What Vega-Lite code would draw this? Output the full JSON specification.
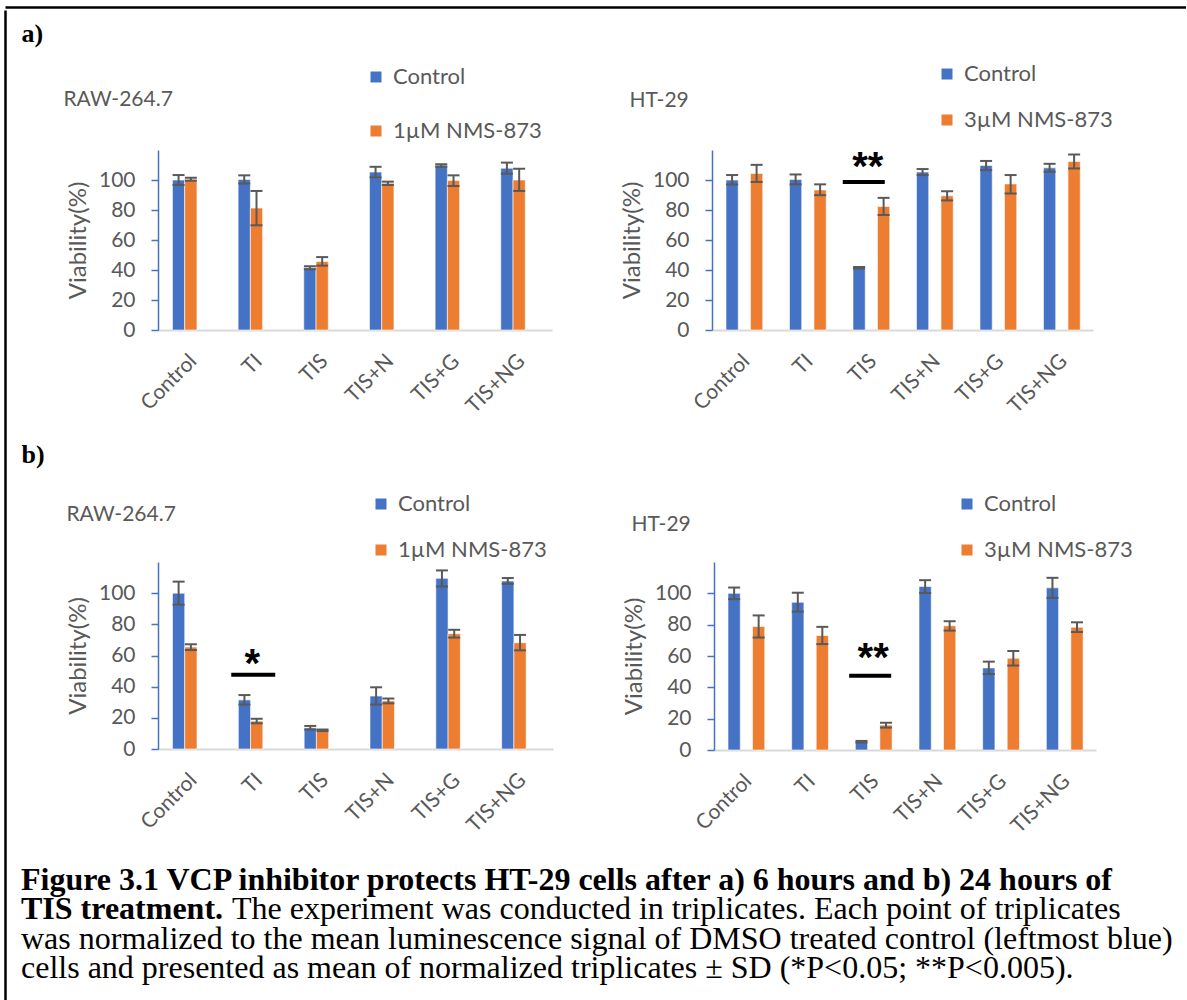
{
"$schema": "https://vega.github.io/schema/vega-lite/v6.json",
"padding": {"left": 5, "top": 7, "right": 0, "bottom": 0},
"background": "white",
"config": {
  "view": {"stroke": null},
  "font": "Lato",
  "axisX": {"domainColor": "#D9D9D9", "domainWidth": 2, "ticks": false, "tickSize": 0, "labelAngle": -45, "labelPadding": 20, "labelOffset": -5, "labelFontSize": 21, "labelColor": "#595959", "labelFont": "Lato", "grid": false},
  "axisY": {"domainColor": "#4472C4", "domainWidth": 1.5, "tickColor": "#4472C4", "tickWidth": 1.5, "tickSize": 7, "labelPadding": 16, "labelFontSize": 21, "labelColor": "#595959", "labelFont": "Lato", "titleFont": "Lato", "titleFontSize": 24, "titleFontWeight": "normal", "titleColor": "#595959", "titlePadding": 8, "grid": false},
  "legend": {"title": null, "labelFont": "Lato", "labelFontSize": 22, "labelColor": "#595959", "symbolType": "square", "symbolSize": 121, "symbolStrokeWidth": 0, "labelOffset": 6, "direction": "vertical", "padding": 0}
},
"datasets": {
  "aL": [
    {"cat": "Control", "series": "Control", "value": 100, "lo": 96.7, "hi": 103.3},
    {"cat": "Control", "series": "1µM NMS-873", "value": 100.5, "lo": 99.5, "hi": 101.5},
    {"cat": "TI", "series": "Control", "value": 100.4, "lo": 97.7, "hi": 103.1},
    {"cat": "TI", "series": "1µM NMS-873", "value": 81.3, "lo": 69.8, "hi": 92.7},
    {"cat": "TIS", "series": "Control", "value": 41.5, "lo": 40.5, "hi": 42.5},
    {"cat": "TIS", "series": "1µM NMS-873", "value": 45.7, "lo": 42.9, "hi": 48.6},
    {"cat": "TIS+N", "series": "Control", "value": 105.3, "lo": 101.8, "hi": 108.8},
    {"cat": "TIS+N", "series": "1µM NMS-873", "value": 97.8, "lo": 96.7, "hi": 98.9},
    {"cat": "TIS+G", "series": "Control", "value": 109.9, "lo": 108.8, "hi": 110.5},
    {"cat": "TIS+G", "series": "1µM NMS-873", "value": 99.6, "lo": 96.0, "hi": 103.1},
    {"cat": "TIS+NG", "series": "Control", "value": 107.9, "lo": 104.2, "hi": 111.6},
    {"cat": "TIS+NG", "series": "1µM NMS-873", "value": 100, "lo": 92.7, "hi": 107.5}
  ],
  "aR": [
    {"cat": "Control", "series": "Control", "value": 100, "lo": 97, "hi": 103.3},
    {"cat": "Control", "series": "3µM NMS-873", "value": 104.4, "lo": 98.7, "hi": 110.1},
    {"cat": "TI", "series": "Control", "value": 100.4, "lo": 97.1, "hi": 103.7},
    {"cat": "TI", "series": "3µM NMS-873", "value": 93.4, "lo": 89.9, "hi": 97.1},
    {"cat": "TIS", "series": "Control", "value": 41.5, "lo": 41, "hi": 42},
    {"cat": "TIS", "series": "3µM NMS-873", "value": 82.4, "lo": 76.7, "hi": 88.1},
    {"cat": "TIS+N", "series": "Control", "value": 105.3, "lo": 103.3, "hi": 107.3},
    {"cat": "TIS+N", "series": "3µM NMS-873", "value": 89.5, "lo": 86.4, "hi": 92.5},
    {"cat": "TIS+G", "series": "Control", "value": 109.7, "lo": 106.6, "hi": 112.7},
    {"cat": "TIS+G", "series": "3µM NMS-873", "value": 97.4, "lo": 91, "hi": 103.3},
    {"cat": "TIS+NG", "series": "Control", "value": 108.1, "lo": 105.5, "hi": 110.8},
    {"cat": "TIS+NG", "series": "3µM NMS-873", "value": 112.3, "lo": 107.7, "hi": 117}
  ],
  "bL": [
    {"cat": "Control", "series": "Control", "value": 100, "lo": 92.6, "hi": 107.4},
    {"cat": "Control", "series": "1µM NMS-873", "value": 65.4, "lo": 63.5, "hi": 67.2},
    {"cat": "TI", "series": "Control", "value": 31.5, "lo": 28.5, "hi": 34.6},
    {"cat": "TI", "series": "1µM NMS-873", "value": 17.9, "lo": 16.5, "hi": 19.4},
    {"cat": "TIS", "series": "Control", "value": 13.6, "lo": 12.4, "hi": 14.8},
    {"cat": "TIS", "series": "1µM NMS-873", "value": 12, "lo": 11.5, "hi": 12.5},
    {"cat": "TIS+N", "series": "Control", "value": 34, "lo": 28.5, "hi": 39.6},
    {"cat": "TIS+N", "series": "1µM NMS-873", "value": 30.9, "lo": 29.3, "hi": 32.4},
    {"cat": "TIS+G", "series": "Control", "value": 109.5, "lo": 104.3, "hi": 114.6},
    {"cat": "TIS+G", "series": "1µM NMS-873", "value": 74, "lo": 71.5, "hi": 76.5},
    {"cat": "TIS+NG", "series": "Control", "value": 107.8, "lo": 106, "hi": 109.7},
    {"cat": "TIS+NG", "series": "1µM NMS-873", "value": 68.2, "lo": 63.3, "hi": 73.2}
  ],
  "bR": [
    {"cat": "Control", "series": "Control", "value": 100, "lo": 96.3, "hi": 103.7},
    {"cat": "Control", "series": "3µM NMS-873", "value": 78.9, "lo": 71.8, "hi": 85.9},
    {"cat": "TI", "series": "Control", "value": 94.3, "lo": 88.3, "hi": 100.4},
    {"cat": "TI", "series": "3µM NMS-873", "value": 73.1, "lo": 67.6, "hi": 78.6},
    {"cat": "TIS", "series": "Control", "value": 5.3, "lo": 4.8, "hi": 5.8},
    {"cat": "TIS", "series": "3µM NMS-873", "value": 15.9, "lo": 14.3, "hi": 17.4},
    {"cat": "TIS+N", "series": "Control", "value": 104.4, "lo": 100.2, "hi": 108.4},
    {"cat": "TIS+N", "series": "3µM NMS-873", "value": 79.3, "lo": 76.2, "hi": 82.2},
    {"cat": "TIS+G", "series": "Control", "value": 52.4, "lo": 48.5, "hi": 56.4},
    {"cat": "TIS+G", "series": "3µM NMS-873", "value": 58.6, "lo": 53.9, "hi": 63.2},
    {"cat": "TIS+NG", "series": "Control", "value": 103.5, "lo": 97.1, "hi": 109.9},
    {"cat": "TIS+NG", "series": "3µM NMS-873", "value": 78.4, "lo": 75.3, "hi": 81.5}
  ],
  "sig_aR": [{"cat": "TIS", "bar": 98.7, "star": 108.2, "label": "**"}],
  "sig_bL": [{"cat": "TI", "bar": 47.6, "star": 53.8, "label": "*"}],
  "sig_bR": [{"cat": "TIS", "bar": 47.4, "star": 58, "label": "**"}],
  "caption": [
    {"line": 1, "style": "bold", "text": "Figure 3.1 VCP inhibitor protects HT-29 cells after a) 6 hours and b) 24 hours of"},
    {"line": 2, "style": "bold", "text": "TIS treatment."},
    {"line": 2, "style": "cont", "text": "The experiment was conducted in triplicates. Each point of triplicates"},
    {"line": 3, "style": "plain", "text": "was normalized to the mean luminescence signal of DMSO treated control (leftmost blue)"},
    {"line": 4, "style": "plain", "text": "cells and presented as mean of normalized triplicates ± SD (*P<0.05; **P<0.005)."}
  ]
},
"spacing": 13,
"resolve": {"scale": {"color": "independent"}, "legend": {"color": "independent"}},
"vconcat": [
  {"width": 1181, "height": 1, "data": {"values": [{"h": 0}]},
   "mark": {"type": "point", "size": 0, "opacity": 0},
   "encoding": {
    "x": {"field": "h", "type": "quantitative", "scale": {"domain": [0, 1]}, "axis": {"orient": "top", "title": null, "labels": false, "ticks": false, "grid": false, "domainColor": "black", "domainWidth": 2.5, "values": [], "minExtent": 0}}
   }},
  {"spacing": 15,
   "resolve": {"scale": {"color": "independent"}, "legend": {"color": "independent"}},
   "hconcat": [
    {"width": 1, "height": 853, "data": {"values": [{"v": 0}]},
     "mark": {"type": "point", "size": 0, "opacity": 0},
     "encoding": {
      "y": {"field": "v", "type": "quantitative", "scale": {"domain": [0, 1], "range": [853, -140]}, "axis": {"title": null, "labels": false, "ticks": false, "grid": false, "domainColor": "black", "domainWidth": 2.5, "values": [], "minExtent": 0, "offset": 0}}
     }},
    {"spacing": 25,
     "resolve": {"scale": {"color": "independent"}, "legend": {"color": "independent"}},
     "vconcat": [
      {"title": {"text": "a)", "anchor": "start", "frame": "bounds", "offset": 3, "dx": -42, "font": "Liberation Serif", "fontSize": 26, "fontWeight": "bold", "color": "black", "baseline": "middle"},
       "spacing": 68,
       "resolve": {"scale": {"color": "independent"}, "legend": {"color": "independent"}},
       "hconcat": [
        {"width": 394, "height": 180, "data": {"name": "aL"},
         "title": {"text": "RAW-264.7", "anchor": "start", "frame": "bounds", "offset": -55, "dx": -3, "baseline": "middle", "font": "Lato", "fontSize": 21, "fontWeight": "normal", "color": "#595959"},
         "layer": [
          {"mark": {"type": "bar", "stroke": "white", "strokeWidth": 0.6},
           "encoding": {
            "x": {"field": "cat", "type": "nominal", "sort": ["Control", "TI", "TIS", "TIS+N", "TIS+G", "TIS+NG"], "title": null, "scale": {"paddingInner": 0.44, "paddingOuter": 0.22}},
            "xOffset": {"field": "series", "type": "nominal", "sort": ["Control", "1µM NMS-873"]},
            "y": {"field": "value", "type": "quantitative", "title": "Viability(%)", "scale": {"domain": [0, 120], "nice": false}, "axis": {"values": [0, 20, 40, 60, 80, 100]}},
            "color": {"field": "series", "type": "nominal", "scale": {"domain": ["Control", "1µM NMS-873"], "range": ["#4472C4", "#ED7D31"]}, "legend": {"orient": "none", "legendX": 207, "legendY": -84, "rowPadding": 32}}
           }},
          {"mark": {"type": "rule", "color": "#595959", "strokeWidth": 2},
           "encoding": {
            "x": {"field": "cat", "type": "nominal", "sort": ["Control", "TI", "TIS", "TIS+N", "TIS+G", "TIS+NG"], "title": null},
            "xOffset": {"field": "series", "type": "nominal", "sort": ["Control", "1µM NMS-873"]},
            "y": {"field": "lo", "type": "quantitative", "title": "Viability(%)", "scale": {"domain": [0, 120], "nice": false}, "axis": {"values": [0, 20, 40, 60, 80, 100]}},
            "y2": {"field": "hi"}
           }},
          {"mark": {"type": "tick", "color": "#595959", "thickness": 2, "size": 12, "opacity": 1},
           "encoding": {
            "x": {"field": "cat", "type": "nominal", "sort": ["Control", "TI", "TIS", "TIS+N", "TIS+G", "TIS+NG"], "title": null},
            "xOffset": {"field": "series", "type": "nominal", "sort": ["Control", "1µM NMS-873"]},
            "y": {"field": "lo", "type": "quantitative", "title": "Viability(%)", "scale": {"domain": [0, 120], "nice": false}, "axis": {"values": [0, 20, 40, 60, 80, 100]}}
           }},
          {"mark": {"type": "tick", "color": "#595959", "thickness": 2, "size": 12, "opacity": 1},
           "encoding": {
            "x": {"field": "cat", "type": "nominal", "sort": ["Control", "TI", "TIS", "TIS+N", "TIS+G", "TIS+NG"], "title": null},
            "xOffset": {"field": "series", "type": "nominal", "sort": ["Control", "1µM NMS-873"]},
            "y": {"field": "hi", "type": "quantitative", "title": "Viability(%)", "scale": {"domain": [0, 120], "nice": false}, "axis": {"values": [0, 20, 40, 60, 80, 100]}}
           }}
         ]},
        {"width": 381, "height": 180, "data": {"name": "aR"},
         "title": {"text": "HT-29", "anchor": "start", "frame": "bounds", "offset": -59, "dx": 9, "baseline": "middle", "font": "Lato", "fontSize": 21, "fontWeight": "normal", "color": "#595959"},
         "layer": [
          {"mark": {"type": "bar", "stroke": "white", "strokeWidth": 0.6},
           "encoding": {
            "x": {"field": "cat", "type": "nominal", "sort": ["Control", "TI", "TIS", "TIS+N", "TIS+G", "TIS+NG"], "title": null, "scale": {"paddingInner": 0.44, "paddingOuter": 0.22}},
            "xOffset": {"field": "series", "type": "nominal", "sort": ["Control", "3µM NMS-873"]},
            "y": {"field": "value", "type": "quantitative", "title": "Viability(%)", "scale": {"domain": [0, 120], "nice": false}, "axis": {"values": [0, 20, 40, 60, 80, 100]}},
            "color": {"field": "series", "type": "nominal", "scale": {"domain": ["Control", "3µM NMS-873"], "range": ["#4472C4", "#ED7D31"]}, "legend": {"orient": "none", "legendX": 224, "legendY": -87, "rowPadding": 24}}
           }},
          {"mark": {"type": "rule", "color": "#595959", "strokeWidth": 2},
           "encoding": {
            "x": {"field": "cat", "type": "nominal", "sort": ["Control", "TI", "TIS", "TIS+N", "TIS+G", "TIS+NG"], "title": null},
            "xOffset": {"field": "series", "type": "nominal", "sort": ["Control", "3µM NMS-873"]},
            "y": {"field": "lo", "type": "quantitative", "title": "Viability(%)", "scale": {"domain": [0, 120], "nice": false}, "axis": {"values": [0, 20, 40, 60, 80, 100]}},
            "y2": {"field": "hi"}
           }},
          {"mark": {"type": "tick", "color": "#595959", "thickness": 2, "size": 12, "opacity": 1},
           "encoding": {
            "x": {"field": "cat", "type": "nominal", "sort": ["Control", "TI", "TIS", "TIS+N", "TIS+G", "TIS+NG"], "title": null},
            "xOffset": {"field": "series", "type": "nominal", "sort": ["Control", "3µM NMS-873"]},
            "y": {"field": "lo", "type": "quantitative", "title": "Viability(%)", "scale": {"domain": [0, 120], "nice": false}, "axis": {"values": [0, 20, 40, 60, 80, 100]}}
           }},
          {"mark": {"type": "tick", "color": "#595959", "thickness": 2, "size": 12, "opacity": 1},
           "encoding": {
            "x": {"field": "cat", "type": "nominal", "sort": ["Control", "TI", "TIS", "TIS+N", "TIS+G", "TIS+NG"], "title": null},
            "xOffset": {"field": "series", "type": "nominal", "sort": ["Control", "3µM NMS-873"]},
            "y": {"field": "hi", "type": "quantitative", "title": "Viability(%)", "scale": {"domain": [0, 120], "nice": false}, "axis": {"values": [0, 20, 40, 60, 80, 100]}}
           }},
          {"data": {"name": "sig_aR"},
           "mark": {"type": "tick", "color": "black", "thickness": 4, "size": 42, "xOffset": -7, "opacity": 1},
           "encoding": {
            "x": {"field": "cat", "type": "nominal", "sort": ["Control", "TI", "TIS", "TIS+N", "TIS+G", "TIS+NG"], "title": null},
            "y": {"field": "bar", "type": "quantitative", "title": "Viability(%)", "scale": {"domain": [0, 120], "nice": false}, "axis": {"values": [0, 20, 40, 60, 80, 100]}}
           }},
          {"data": {"name": "sig_aR"},
           "mark": {"type": "text", "font": "Liberation Sans", "fontSize": 40, "fontWeight": "bold", "color": "black", "baseline": "middle", "dx": -3},
           "encoding": {
            "x": {"field": "cat", "type": "nominal", "sort": ["Control", "TI", "TIS", "TIS+N", "TIS+G", "TIS+NG"], "title": null},
            "y": {"field": "star", "type": "quantitative", "title": "Viability(%)", "scale": {"domain": [0, 120], "nice": false}, "axis": {"values": [0, 20, 40, 60, 80, 100]}},
            "text": {"field": "label"}
           }}
         ]}
       ]},
      {"title": {"text": "b)", "anchor": "start", "frame": "bounds", "offset": 12, "dx": -45, "font": "Liberation Serif", "fontSize": 26, "fontWeight": "bold", "color": "black", "baseline": "middle"},
       "spacing": 69,
       "resolve": {"scale": {"color": "independent"}, "legend": {"color": "independent"}},
       "hconcat": [
        {"width": 395, "height": 187, "data": {"name": "bL"},
         "title": {"text": "RAW-264.7", "anchor": "start", "frame": "bounds", "offset": -43, "dx": 0, "baseline": "middle", "font": "Lato", "fontSize": 21, "fontWeight": "normal", "color": "#595959"},
         "layer": [
          {"mark": {"type": "bar", "stroke": "white", "strokeWidth": 0.6},
           "encoding": {
            "x": {"field": "cat", "type": "nominal", "sort": ["Control", "TI", "TIS", "TIS+N", "TIS+G", "TIS+NG"], "title": null, "scale": {"paddingInner": 0.44, "paddingOuter": 0.22}},
            "xOffset": {"field": "series", "type": "nominal", "sort": ["Control", "1µM NMS-873"]},
            "y": {"field": "value", "type": "quantitative", "title": "Viability(%)", "scale": {"domain": [0, 120], "nice": false}, "axis": {"values": [0, 20, 40, 60, 80, 100]}},
            "color": {"field": "series", "type": "nominal", "scale": {"domain": ["Control", "1µM NMS-873"], "range": ["#4472C4", "#ED7D31"]}, "legend": {"orient": "none", "legendX": 212, "legendY": -69, "rowPadding": 24}}
           }},
          {"mark": {"type": "rule", "color": "#595959", "strokeWidth": 2},
           "encoding": {
            "x": {"field": "cat", "type": "nominal", "sort": ["Control", "TI", "TIS", "TIS+N", "TIS+G", "TIS+NG"], "title": null},
            "xOffset": {"field": "series", "type": "nominal", "sort": ["Control", "1µM NMS-873"]},
            "y": {"field": "lo", "type": "quantitative", "title": "Viability(%)", "scale": {"domain": [0, 120], "nice": false}, "axis": {"values": [0, 20, 40, 60, 80, 100]}},
            "y2": {"field": "hi"}
           }},
          {"mark": {"type": "tick", "color": "#595959", "thickness": 2, "size": 12, "opacity": 1},
           "encoding": {
            "x": {"field": "cat", "type": "nominal", "sort": ["Control", "TI", "TIS", "TIS+N", "TIS+G", "TIS+NG"], "title": null},
            "xOffset": {"field": "series", "type": "nominal", "sort": ["Control", "1µM NMS-873"]},
            "y": {"field": "lo", "type": "quantitative", "title": "Viability(%)", "scale": {"domain": [0, 120], "nice": false}, "axis": {"values": [0, 20, 40, 60, 80, 100]}}
           }},
          {"mark": {"type": "tick", "color": "#595959", "thickness": 2, "size": 12, "opacity": 1},
           "encoding": {
            "x": {"field": "cat", "type": "nominal", "sort": ["Control", "TI", "TIS", "TIS+N", "TIS+G", "TIS+NG"], "title": null},
            "xOffset": {"field": "series", "type": "nominal", "sort": ["Control", "1µM NMS-873"]},
            "y": {"field": "hi", "type": "quantitative", "title": "Viability(%)", "scale": {"domain": [0, 120], "nice": false}, "axis": {"values": [0, 20, 40, 60, 80, 100]}}
           }},
          {"data": {"name": "sig_bL"},
           "mark": {"type": "tick", "color": "black", "thickness": 4, "size": 44, "xOffset": -3.5, "opacity": 1},
           "encoding": {
            "x": {"field": "cat", "type": "nominal", "sort": ["Control", "TI", "TIS", "TIS+N", "TIS+G", "TIS+NG"], "title": null},
            "y": {"field": "bar", "type": "quantitative", "title": "Viability(%)", "scale": {"domain": [0, 120], "nice": false}, "axis": {"values": [0, 20, 40, 60, 80, 100]}}
           }},
          {"data": {"name": "sig_bL"},
           "mark": {"type": "text", "font": "Liberation Sans", "fontSize": 40, "fontWeight": "bold", "color": "black", "baseline": "middle", "dx": -4.5},
           "encoding": {
            "x": {"field": "cat", "type": "nominal", "sort": ["Control", "TI", "TIS", "TIS+N", "TIS+G", "TIS+NG"], "title": null},
            "y": {"field": "star", "type": "quantitative", "title": "Viability(%)", "scale": {"domain": [0, 120], "nice": false}, "axis": {"values": [0, 20, 40, 60, 80, 100]}},
            "text": {"field": "label"}
           }}
         ]},
        {"width": 382, "height": 188, "data": {"name": "bR"},
         "title": {"text": "HT-29", "anchor": "start", "frame": "bounds", "offset": -53, "dx": 9, "baseline": "middle", "font": "Lato", "fontSize": 21, "fontWeight": "normal", "color": "#595959"},
         "layer": [
          {"mark": {"type": "bar", "stroke": "white", "strokeWidth": 0.6},
           "encoding": {
            "x": {"field": "cat", "type": "nominal", "sort": ["Control", "TI", "TIS", "TIS+N", "TIS+G", "TIS+NG"], "title": null, "scale": {"paddingInner": 0.44, "paddingOuter": 0.22}},
            "xOffset": {"field": "series", "type": "nominal", "sort": ["Control", "3µM NMS-873"]},
            "y": {"field": "value", "type": "quantitative", "title": "Viability(%)", "scale": {"domain": [0, 120], "nice": false}, "axis": {"values": [0, 20, 40, 60, 80, 100]}},
            "color": {"field": "series", "type": "nominal", "scale": {"domain": ["Control", "3µM NMS-873"], "range": ["#4472C4", "#ED7D31"]}, "legend": {"orient": "none", "legendX": 242, "legendY": -69, "rowPadding": 24}}
           }},
          {"mark": {"type": "rule", "color": "#595959", "strokeWidth": 2},
           "encoding": {
            "x": {"field": "cat", "type": "nominal", "sort": ["Control", "TI", "TIS", "TIS+N", "TIS+G", "TIS+NG"], "title": null},
            "xOffset": {"field": "series", "type": "nominal", "sort": ["Control", "3µM NMS-873"]},
            "y": {"field": "lo", "type": "quantitative", "title": "Viability(%)", "scale": {"domain": [0, 120], "nice": false}, "axis": {"values": [0, 20, 40, 60, 80, 100]}},
            "y2": {"field": "hi"}
           }},
          {"mark": {"type": "tick", "color": "#595959", "thickness": 2, "size": 12, "opacity": 1},
           "encoding": {
            "x": {"field": "cat", "type": "nominal", "sort": ["Control", "TI", "TIS", "TIS+N", "TIS+G", "TIS+NG"], "title": null},
            "xOffset": {"field": "series", "type": "nominal", "sort": ["Control", "3µM NMS-873"]},
            "y": {"field": "lo", "type": "quantitative", "title": "Viability(%)", "scale": {"domain": [0, 120], "nice": false}, "axis": {"values": [0, 20, 40, 60, 80, 100]}}
           }},
          {"mark": {"type": "tick", "color": "#595959", "thickness": 2, "size": 12, "opacity": 1},
           "encoding": {
            "x": {"field": "cat", "type": "nominal", "sort": ["Control", "TI", "TIS", "TIS+N", "TIS+G", "TIS+NG"], "title": null},
            "xOffset": {"field": "series", "type": "nominal", "sort": ["Control", "3µM NMS-873"]},
            "y": {"field": "hi", "type": "quantitative", "title": "Viability(%)", "scale": {"domain": [0, 120], "nice": false}, "axis": {"values": [0, 20, 40, 60, 80, 100]}}
           }},
          {"data": {"name": "sig_bR"},
           "mark": {"type": "tick", "color": "black", "thickness": 4, "size": 42, "xOffset": -3, "opacity": 1},
           "encoding": {
            "x": {"field": "cat", "type": "nominal", "sort": ["Control", "TI", "TIS", "TIS+N", "TIS+G", "TIS+NG"], "title": null},
            "y": {"field": "bar", "type": "quantitative", "title": "Viability(%)", "scale": {"domain": [0, 120], "nice": false}, "axis": {"values": [0, 20, 40, 60, 80, 100]}}
           }},
          {"data": {"name": "sig_bR"},
           "mark": {"type": "text", "font": "Liberation Sans", "fontSize": 40, "fontWeight": "bold", "color": "black", "baseline": "middle", "dx": 0},
           "encoding": {
            "x": {"field": "cat", "type": "nominal", "sort": ["Control", "TI", "TIS", "TIS+N", "TIS+G", "TIS+NG"], "title": null},
            "y": {"field": "star", "type": "quantitative", "title": "Viability(%)", "scale": {"domain": [0, 120], "nice": false}, "axis": {"values": [0, 20, 40, 60, 80, 100]}},
            "text": {"field": "label"}
           }}
         ]}
       ]},
      {"width": 1000, "height": 118, "data": {"name": "caption"},
       "encoding": {
        "x": {"datum": 0, "type": "quantitative", "scale": {"domain": [0, 1]}, "axis": null},
        "y": {"field": "line", "type": "ordinal", "axis": null, "scale": {"type": "point", "padding": 0.5}},
        "text": {"field": "text"}
       },
       "layer": [
        {"transform": [{"filter": "datum.style === 'bold'"}], "mark": {"type": "text", "align": "left", "baseline": "middle", "font": "Liberation Serif", "fontSize": 32, "fontWeight": "bold", "color": "black", "dx": -137, "dy": 3}},
        {"transform": [{"filter": "datum.style === 'cont'"}], "mark": {"type": "text", "align": "left", "baseline": "middle", "font": "Liberation Serif", "fontSize": 32, "fontWeight": "normal", "color": "black", "dx": 74, "dy": 3}},
        {"transform": [{"filter": "datum.style === 'plain'"}], "mark": {"type": "text", "align": "left", "baseline": "middle", "font": "Liberation Serif", "fontSize": 32, "fontWeight": "normal", "color": "black", "dx": -137, "dy": 3}}
       ]}
     ]}
   ]}
]
}
